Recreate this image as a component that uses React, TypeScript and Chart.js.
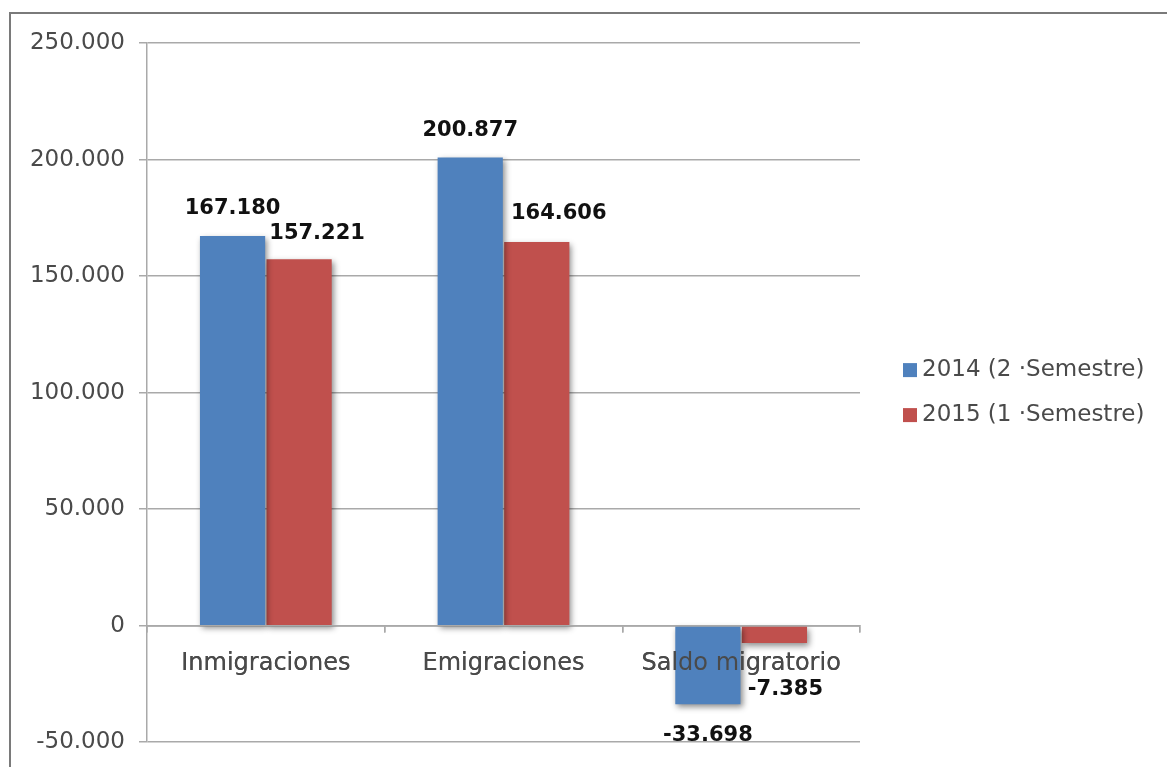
import React, { useEffect, useRef } from "react";
import { Chart, registerables } from "chart.js";

Chart.register(...registerables);

const categories = ["Inmigraciones", "Emigraciones", "Saldo migratorio"];
const series2014 = [167180, 200877, -33698];
const series2015 = [157221, 164606, -7385];
const seriesLabels = ["2014 (2 ·Semestre)", "2015 (1 ·Semestre)"];
const yTicks = [-50000, 0, 50000, 100000, 150000, 200000, 250000];

const COLORS = ["#4F81BD", "#C0504D"];
const FONT = '"DejaVu Sans", "Liberation Sans", sans-serif';
const TEXT = "#4a4a4a";
const GRID = "#a9a9a9";

// label nudges [dx, dy] relative to the bar end, per dataset per category (style only)
const LABEL_NUDGE = [
  [[0, -27], [0, -27], [0, 31]],
  [[18, -26], [22, -28], [11, 47]],
];

const fmt = (n: number) => String(n).replace(/\B(?=(\d{3})+(?!\d))/g, ".");

const shadowAndLabels = {
  id: "shadowAndLabels",
  beforeDatasetsDraw(chart: any) {
    const ctx = chart.ctx;
    ctx.save();
    ctx.shadowColor = "rgba(0,0,0,0.45)";
    ctx.shadowBlur = 6;
    ctx.shadowOffsetX = 2;
    ctx.shadowOffsetY = 3;
  },
  afterDatasetsDraw(chart: any) {
    const ctx = chart.ctx;
    ctx.restore();
    // draw x axis again on top of the bars (category labels overlap bars in the original)
    chart.scales.x.draw(chart.chartArea);
    ctx.save();
    ctx.font = `bold 21px ${FONT}`;
    ctx.fillStyle = "#111";
    ctx.textAlign = "center";
    ctx.textBaseline = "middle";
    chart.data.datasets.forEach((ds: any, di: number) => {
      const meta = chart.getDatasetMeta(di);
      meta.data.forEach((el: any, i: number) => {
        const [dx, dy] = LABEL_NUDGE[di][i];
        ctx.fillText(fmt(ds.data[i]), el.x + dx, el.y + dy);
      });
    });
    ctx.restore();
  },
  afterDraw(chart: any) {
    const ctx = chart.ctx;
    const area = chart.chartArea;
    const x0 = area.right + 43;
    const cy = (area.top + area.bottom) / 2;
    const gap = 45;
    ctx.save();
    ctx.font = `23px ${FONT}`;
    ctx.textBaseline = "middle";
    ctx.textAlign = "left";
    chart.data.datasets.forEach((ds: any, di: number) => {
      const y = cy + (di - (chart.data.datasets.length - 1) / 2) * gap;
      ctx.fillStyle = ds.backgroundColor;
      ctx.fillRect(x0, y - 7, 14, 14);
      ctx.fillStyle = TEXT;
      ctx.fillText(ds.label, x0 + 19, y);
    });
    ctx.restore();
  },
};

export default function App() {
  const ref = useRef<HTMLCanvasElement>(null);
  useEffect(() => {
    if (!ref.current) return;
    const chart = new Chart(ref.current, {
      type: "bar",
      data: {
        labels: categories,
        datasets: [
          { label: seriesLabels[0], data: series2014, backgroundColor: COLORS[0] },
          { label: seriesLabels[1], data: series2015, backgroundColor: COLORS[1] },
        ],
      },
      options: {
        responsive: false,
        animation: false,
        devicePixelRatio: 1,
        layout: { padding: { top: 43, left: 0, right: 307, bottom: 20 } },
        datasets: {
          bar: { categoryPercentage: 0.56, barPercentage: 0.98, borderWidth: 0 },
        },
        plugins: { legend: { display: false }, tooltip: { enabled: false } },
        scales: {
          x: {
            position: { y: 0 } as any,
            grid: {
              offset: true,
              drawOnChartArea: false,
              drawTicks: true,
              tickLength: 6,
              color: GRID,
              lineWidth: 1.5,
            },
            border: { display: true, color: GRID, width: 1.5 },
            ticks: {
              color: TEXT,
              font: { family: FONT, size: 24 },
              padding: 18,
              maxRotation: 0,
            },
          },
          y: {
            min: -50000,
            max: 250000,
            afterFit(scale: any) {
              scale.width = 147;
            },
            afterBuildTicks(scale: any) {
              scale.ticks = yTicks.map((v) => ({ value: v }));
            },
            grid: { color: GRID, lineWidth: 1.5, tickLength: 8 },
            border: { display: true, color: GRID, width: 1.5 },
            ticks: {
              color: TEXT,
              font: { family: FONT, size: 23 },
              padding: 14,
              callback: (v: any) => fmt(Number(v)),
            },
          },
        },
      },
      plugins: [shadowAndLabels],
    });
    return () => chart.destroy();
  }, []);

  return (
    <div style={{ position: "fixed", left: 0, top: 0, width: 1167, height: 767, overflow: "hidden", background: "#fff" }}>
      <div
        style={{
          position: "absolute",
          left: 9,
          top: 12,
          width: 1250,
          height: 850,
          border: "2px solid #7a7a7a",
          boxSizing: "border-box",
        }}
      />
      <canvas ref={ref} width={1167} height={770} style={{ position: "absolute", left: 0, top: 0 }} />
    </div>
  );
}
